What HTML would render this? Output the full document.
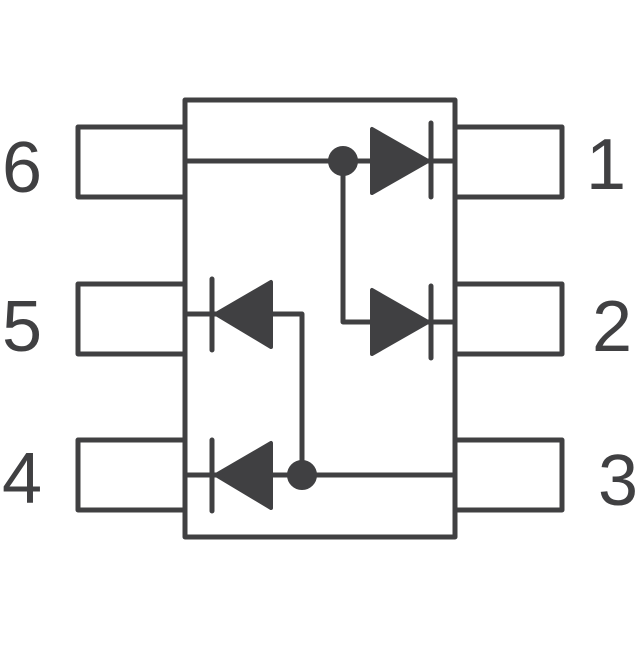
<!DOCTYPE html>
<html><head><style>html,body{margin:0;padding:0;background:#fff;}</style></head>
<body>
<svg width="640" height="640" viewBox="0 0 640 640" xmlns="http://www.w3.org/2000/svg">
<g fill="none" stroke="#404042" stroke-width="5" stroke-linejoin="round" stroke-linecap="round">
<rect x="185" y="100" width="270" height="437"/>
<rect x="78" y="127" width="107" height="70"/>
<rect x="78" y="284" width="107" height="70"/>
<rect x="78" y="440" width="107" height="70"/>
<rect x="455" y="127" width="107" height="70"/>
<rect x="455" y="284" width="107" height="70"/>
<rect x="455" y="440" width="107" height="70"/>
<path d="M185 161H455M343 161V322H455M185 314H302V475H455M185 475H302"/>
<path d="M431 123V197M431 286V358M212 279V350M212 440V511"/>
</g>
<g fill="#404042" stroke="#404042" stroke-width="4" stroke-linejoin="round">
<circle cx="343" cy="161" r="13"/>
<circle cx="302" cy="475" r="13"/>
<polygon points="372,129 372,193 428,161"/>
<polygon points="372,290 372,354 428,322"/>
<polygon points="271,282 271,347 216,314"/>
<polygon points="271,443 271,508 216,475"/>
</g>
<g fill="#404042" font-family="Liberation Sans, sans-serif" font-size="72" text-anchor="middle">
<text x="22" y="192">6</text>
<text x="22" y="351">5</text>
<text x="22" y="503">4</text>
<text x="606" y="189">1</text>
<text x="612" y="351">2</text>
<text x="618" y="505">3</text>
</g>
</svg>
</body></html>
